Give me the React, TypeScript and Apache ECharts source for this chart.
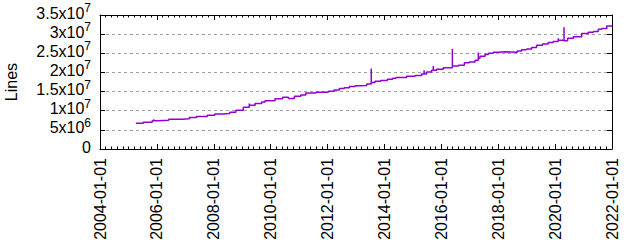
import React, { useEffect, useRef } from 'react';
import * as echarts from 'echarts';

// ---- data ----
const xTickLabels = [
  '2004-01-01', '2006-01-01', '2008-01-01', '2010-01-01', '2012-01-01',
  '2014-01-01', '2016-01-01', '2018-01-01', '2020-01-01', '2022-01-01',
];
const yTicks = [0, 5e6, 1e7, 1.5e7, 2e7, 2.5e7, 3e7, 3.5e7];
const yAxisName = 'Lines';

// step-line points (repeated dates are spikes)
const dates = [
  '2005-04-05', '2005-07-10', '2005-11-01', '2005-11-20', '2005-11-20', '2006-01-20',
  '2006-06-01', '2006-11-20', '2007-02-20', '2007-05-25', '2007-10-10',
  '2008-01-15', '2008-05-01', '2008-07-25', '2008-10-10', '2009-01-15',
  '2009-04-01', '2009-04-01', '2009-06-15', '2009-09-08', '2009-10-20',
  '2010-02-25', '2010-06-03', '2010-08-15', '2010-11-01', '2011-01-22',
  '2011-03-28', '2011-08-05', '2012-01-10', '2012-03-25', '2012-06-01',
  '2012-08-03', '2012-10-08', '2012-12-20', '2013-02-20', '2013-05-18',
  '2013-07-15', '2013-07-15', '2013-09-01', '2013-11-13', '2014-02-07',
  '2014-04-16', '2014-05-30', '2014-10-12', '2015-01-29', '2015-04-23',
  '2015-05-25', '2015-05-25', '2015-06-27', '2015-08-29', '2015-09-20',
  '2015-09-20', '2015-11-02', '2016-01-26', '2016-05-22', '2016-05-22',
  '2016-08-07', '2016-10-23', '2016-12-27', '2017-03-10', '2017-04-20',
  '2017-04-20', '2017-05-12', '2017-07-16', '2017-08-26', '2017-10-30',
  '2018-01-04', '2018-03-29', '2018-09-02', '2018-10-27', '2019-01-01',
  '2019-03-07', '2019-05-09', '2019-07-24', '2019-10-04', '2019-12-08',
  '2020-02-10', '2020-02-10', '2020-04-16', '2020-04-25', '2020-04-25',
  '2020-06-10', '2020-08-22', '2020-12-08', '2021-03-02', '2021-05-08',
  '2021-07-09', '2021-08-22', '2021-10-26', '2022-01-01',
];
const lines = [
  6.7e6, 6.97e6, 7.4e6, 7.8e6, 7.4e6, 7.5e6,
  7.75e6, 7.93e6, 8.2e6, 8.5e6, 8.8e6,
  9.14e6, 9.3e6, 9.6e6, 1.01e7, 1.09e7,
  1.19e7, 1.14e7, 1.19e7, 1.23e7, 1.26e7,
  1.31e7, 1.35e7, 1.32e7, 1.38e7, 1.41e7,
  1.46e7, 1.48e7, 1.51e7, 1.54e7, 1.58e7,
  1.6e7, 1.63e7, 1.65e7, 1.66e7, 1.7e7,
  2.1e7, 1.74e7, 1.77e7, 1.79e7, 1.82e7,
  1.85e7, 1.87e7, 1.9e7, 1.92e7, 1.96e7,
  2.06e7, 1.96e7, 2.01e7, 2.06e7, 2.17e7,
  2.06e7, 2.08e7, 2.12e7, 2.61e7, 2.17e7,
  2.19e7, 2.25e7, 2.27e7, 2.32e7, 2.52e7,
  2.37e7, 2.42e7, 2.47e7, 2.5e7, 2.53e7,
  2.54e7, 2.53e7, 2.56e7, 2.59e7, 2.61e7,
  2.65e7, 2.71e7, 2.74e7, 2.78e7, 2.81e7,
  2.89e7, 2.84e7, 2.83e7, 3.18e7, 2.83e7,
  2.89e7, 2.93e7, 3.02e7, 3.05e7, 3.07e7,
  3.13e7, 3.15e7, 3.21e7, 3.21e7,
];

// ---- helpers ----
function toTime(s: string): number {
  const [y, m, d] = s.split('-').map(Number);
  return new Date(y, m - 1, d).getTime();
}
function pad(n: number): string {
  return n < 10 ? '0' + n : String(n);
}
function fmtDate(v: number): string {
  const d = new Date(v + 12 * 3600 * 1000);
  return `${d.getFullYear()}-${pad(d.getMonth() + 1)}-${pad(d.getDate())}`;
}
function fmtSci(v: number): string {
  if (v === 0) return '{b|0}';
  const e = Math.floor(Math.log10(v) + 1e-9);
  const m = Math.round((v / Math.pow(10, e)) * 100) / 100;
  return `{b|${m}x10}{s|${e}}`;
}

const FONT = '"Liberation Sans", Arial, Helvetica, sans-serif';

export default function App() {
  const ref = useRef<HTMLDivElement>(null);

  useEffect(() => {
    if (!ref.current) return;
    const chart = echarts.init(ref.current, undefined, { renderer: 'svg' });

    const majorTimes = xTickLabels.map(toTime);
    const minorTimes: number[] = [];
    for (let i = 0; i < majorTimes.length - 1; i++) {
      const a = majorTimes[i];
      const b = majorTimes[i + 1];
      for (let k = 1; k < 10; k++) minorTimes.push(a + ((b - a) * k) / 10);
    }
    const xMin = majorTimes[0];
    const xMax = majorTimes[majorTimes.length - 1];

    const seriesData = dates.map((d, i) => [toTime(d), lines[i]]);

    const yMin = yTicks[0];
    const yMax = yTicks[yTicks.length - 1];
    const yInterval = yTicks[1] - yTicks[0];
    const yEven = yTicks.filter((_, i) => i % 2 === 0);
    const yOdd = yTicks.filter((_, i) => i % 2 === 1);

    const baseX = {
      type: 'value' as const,
      min: xMin,
      max: xMax,
      scale: true,
      splitLine: { show: false },
      minorTick: { show: false },
      minorSplitLine: { show: false },
    };

    const yLabel = (values: number[]) => ({
      show: true,
      customValues: values,
      margin: 9,
      color: '#000',
      fontFamily: FONT,
      fontSize: 16,
      padding: [0, 0, 8, 0],
      showMinLabel: true,
      showMaxLabel: true,
      hideOverlap: false,
      formatter: (v: number) => fmtSci(v),
      rich: {
        b: { fontSize: 16, lineHeight: 20, verticalAlign: 'bottom', color: '#000', fontFamily: FONT },
        s: {
          fontSize: 12,
          lineHeight: 12,
          verticalAlign: 'top',
          padding: [1, 0, 0, 0],
          color: '#000',
          fontFamily: FONT,
        },
      },
    });

    chart.setOption({
      animation: false,
      backgroundColor: '#ffffff',
      textStyle: { fontFamily: FONT },
      grid: {
        left: 100,
        right: 28,
        top: 15,
        bottom: 91,
        containLabel: false,
        outerBoundsMode: 'none',
      },
      xAxis: [
        {
          ...baseX,
          position: 'bottom',
          axisLine: { show: true, onZero: false, lineStyle: { color: '#000', width: 1 } },
          axisTick: {
            show: true,
            inside: true,
            length: 5,
            customValues: majorTimes,
            lineStyle: { color: '#000', width: 1 },
          },
          axisLabel: {
            show: true,
            customValues: majorTimes,
            rotate: 90,
            margin: 9,
            fontSize: 16,
            color: '#000',
            fontFamily: FONT,
            padding: [0, 0, 7, 0],
            showMinLabel: true,
            showMaxLabel: true,
            hideOverlap: false,
            formatter: (v: number) => fmtDate(v),
          },
        },
        {
          ...baseX,
          position: 'top',
          axisLine: { show: true, onZero: false, lineStyle: { color: '#000', width: 1 } },
          axisTick: {
            show: true,
            inside: true,
            length: 5,
            customValues: majorTimes,
            lineStyle: { color: '#000', width: 1 },
          },
          axisLabel: { show: false },
        },
        {
          ...baseX,
          position: 'bottom',
          axisLine: { show: false, onZero: false },
          axisTick: {
            show: true,
            inside: true,
            length: 2.5,
            customValues: minorTimes,
            lineStyle: { color: '#000', width: 1 },
          },
          axisLabel: { show: false },
        },
        {
          ...baseX,
          position: 'top',
          axisLine: { show: false, onZero: false },
          axisTick: {
            show: true,
            inside: true,
            length: 2.5,
            customValues: minorTimes,
            lineStyle: { color: '#000', width: 1 },
          },
          axisLabel: { show: false },
        },
      ],
      yAxis: [
        {
          type: 'value',
          position: 'left',
          min: yMin,
          max: yMax,
          interval: yInterval,
          name: yAxisName,
          nameLocation: 'middle',
          nameGap: 81,
          nameRotate: 90,
          nameTextStyle: { fontSize: 16, color: '#000', fontFamily: FONT },
          axisLine: { show: true, onZero: false, lineStyle: { color: '#000', width: 1 } },
          axisTick: { show: true, inside: true, length: 5, lineStyle: { color: '#000', width: 1 } },
          axisLabel: yLabel(yEven),
          splitLine: {
            show: true,
            lineStyle: { color: '#a0a0a0', width: 1, type: [3, 3] },
          },
        },
        {
          type: 'value',
          position: 'right',
          min: yMin,
          max: yMax,
          interval: yInterval,
          axisLine: { show: true, onZero: false, lineStyle: { color: '#000', width: 1 } },
          axisTick: { show: true, inside: true, length: 5, lineStyle: { color: '#000', width: 1 } },
          axisLabel: { show: false },
          splitLine: { show: false },
        },
        {
          type: 'value',
          position: 'left',
          min: yMin,
          max: yMax,
          interval: yInterval,
          axisLine: { show: false, onZero: false },
          axisTick: { show: false },
          axisLabel: yLabel(yOdd),
          splitLine: { show: false },
        },
      ],
      series: [
        {
          type: 'line',
          xAxisIndex: 0,
          yAxisIndex: 0,
          step: 'end',
          showSymbol: false,
          symbol: 'none',
          data: seriesData,
          lineStyle: { color: '#9400d3', width: 1.5 },
          itemStyle: { color: '#9400d3' },
          z: 3,
        },
      ],
    });

    return () => {
      chart.dispose();
    };
  }, []);

  return (
    <div
      ref={ref}
      style={{ position: 'fixed', left: 0, top: 0, width: 640, height: 240, background: '#fff' }}
    />
  );
}
